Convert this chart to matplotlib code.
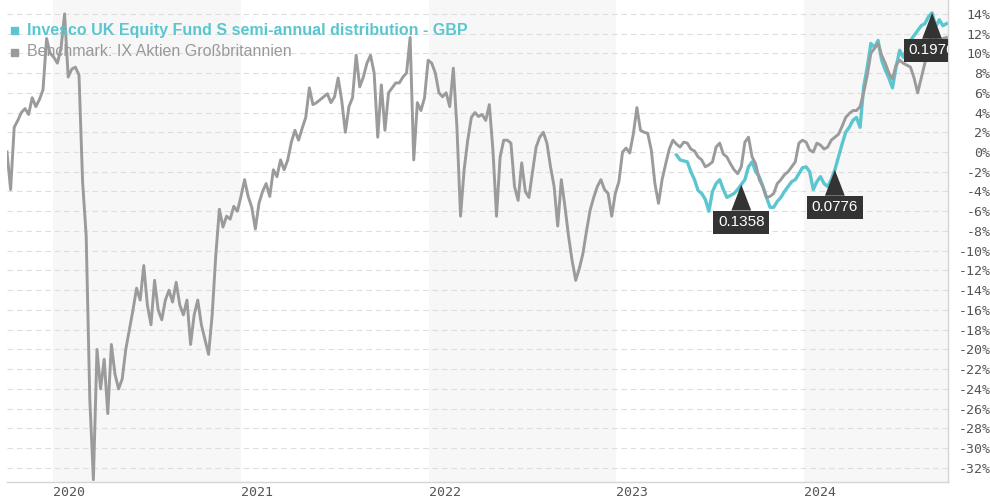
import pandas as pd
import matplotlib
matplotlib.use('Agg')
import matplotlib.pyplot as plt
from matplotlib.patches import Rectangle

# weekly closes, performance in %
weeks = pd.date_range('2019-10-04', periods=262, freq='7D')

benchmark = [
    0.0, -3.8, 2.5, 3.2, 4.0, 4.4, 3.8, 5.5, 4.6, 5.3,
    6.3, 11.5, 10.0, 9.6, 9.0, 10.5, 14.0, 7.6, 8.4, 8.6,
    7.8, -3.0, -8.5, -25.0, -33.2, -20.0, -24.0, -21.0, -26.5, -19.5,
    -22.5, -24.0, -23.0, -20.0, -18.0, -16.0, -13.8, -15.0, -11.5, -15.5,
    -17.5, -13.0, -16.0, -17.0, -15.0, -14.0, -15.2, -13.2, -15.5, -16.5,
    -15.0, -19.5, -16.5, -15.0, -17.5, -19.0, -20.5, -16.5, -10.5, -5.8,
    -7.6, -6.5, -6.8, -5.5, -6.0, -4.5, -2.8, -4.5, -5.6, -7.8,
    -5.2, -4.0, -3.2, -4.5, -1.8, -2.5, -0.8, -1.8, -0.8, 1.0,
    2.2, 1.2, 2.4, 3.5, 6.5, 4.8, 5.0, 5.3, 5.6, 5.9,
    5.0, 5.6, 7.5, 5.2, 2.0, 4.6, 5.5, 9.8, 6.6, 7.6,
    9.0, 9.8, 8.0, 1.5, 6.8, 2.2, 6.0, 6.5, 7.0, 7.0,
    7.6, 8.0, 11.6, -0.8, 5.0, 4.2, 5.5, 9.3, 9.0, 8.0,
    6.0, 5.6, 6.0, 4.6, 8.5, 2.5, -6.5, -1.8, 1.2, 3.5,
    4.0, 3.6, 3.8, 3.2, 4.8, 0.2, -6.5, -0.5, 1.2, 1.2,
    0.9, -3.5, -4.9, -1.1, -4.0, -4.6, -2.0, 0.5, 1.5, 2.0,
    0.9, -1.5, -3.5, -7.5, -2.8, -5.5, -8.5, -11.0, -13.0, -11.8,
    -10.3, -8.0, -5.9, -4.6, -3.5, -2.8, -3.8, -4.2, -6.5, -4.2,
    -3.0, 0.0, 0.4, -0.1, 1.8, 4.5, 2.2, 2.0, 1.9, 0.2,
    -3.2, -5.2, -2.8, -1.2, 0.3, 1.2, 0.8, 0.5, 1.0, 0.9,
    0.3, 0.1, -0.5, -0.8, -1.5, -1.3, -1.0, 0.5, 0.9, -0.2,
    -0.5, -1.2, -1.8, -2.2, -1.5, 1.0, 1.5, -0.5, -1.2, -2.8,
    -3.5, -4.6, -4.5, -4.2, -3.2, -2.8, -2.3, -2.0, -1.5, -1.0,
    0.9, 1.2, 1.0, 0.2, 0.0, 0.9, 0.7, 0.3, 0.5, 1.2,
    1.5, 1.8, 2.6, 3.5, 3.9, 4.2, 4.2, 4.6, 6.0, 7.8,
    10.0, 10.5, 11.0, 9.8, 9.0, 8.0, 7.4, 8.8, 9.3, 9.0,
    8.8, 8.6, 7.5, 6.0, 7.5, 9.0, 10.8, 12.0, 11.5, 11.0,
    11.5, 11.6,
]

fund_start = 186  # fund series begins at this week
fund = [
    -0.3, -0.8, -0.9, -1.0, -2.0, -2.8, -3.9, -4.2, -4.8, -6.0,
    -4.0, -3.2, -2.8, -3.8, -4.6, -4.4, -4.2, -3.8, -3.3, -2.8,
    -1.5, -1.0, -2.0, -2.5, -3.5, -4.6, -5.6, -5.6, -5.0, -4.6,
    -4.0, -3.5, -3.0, -2.8, -2.2, -1.6, -1.5, -2.0, -3.8, -3.0,
    -2.5, -3.2, -3.5, -2.8, -1.8, -0.5, 0.8, 2.0, 2.5, 3.2,
    3.5, 2.5, 6.6, 8.6, 11.0, 10.6, 11.3, 9.3, 8.3, 7.5,
    6.5, 8.6, 10.3, 9.6, 10.5, 11.3, 11.8, 12.3, 12.8, 13.0,
    13.7, 14.1, 12.7, 13.4, 12.8, 13.0,
]

payout_weeks = [204, 230, 257]
payout_labels = ['0.1358', '0.0776', '0.1976']

years = ['2020', '2021', '2022', '2023', '2024']
shaded_years = ['2020', '2022', '2024']
yticks = list(range(-32, 15, 2))

fund_name = 'Invesco UK Equity Fund S semi-annual distribution - GBP'
bench_name = 'Benchmark: IX Aktien Großbritannien'

CYAN = '#5bc6cf'
GREY = '#9b9b9b'
LABEL = '#555555'

plt.rcParams['font.family'] = ['DejaVu Sans']

fig = plt.figure(figsize=(9.9, 5.0), dpi=100)
ax = fig.add_axes([7 / 990, 18 / 500, 941 / 990, 482 / 500])
ax.set_xlim(pd.Timestamp('2019-10-04'), pd.Timestamp('2024-10-07'))
ax.set_ylim(-33.43, 15.4)

for y in shaded_years:
    ax.axvspan(pd.Timestamp(y + '-01-01'), pd.Timestamp(str(int(y) + 1) + '-01-01'),
               color='#f7f7f7', lw=0, zorder=0)

ax.set_yticks(yticks)
ax.yaxis.grid(True, color='#dedede', linestyle=(0, (5, 3.5)), linewidth=0.8, zorder=1)
ax.set_axisbelow(True)

ax.plot(weeks[fund_start:], fund, color=CYAN, lw=2.4, zorder=3, solid_joinstyle='round')
ax.plot(weeks, benchmark, color=GREY, lw=2.1, zorder=4, solid_joinstyle='round')

for idx, lab in zip(payout_weeks, payout_labels):
    val = fund[idx - fund_start]
    ax.annotate(lab, xy=(weeks[idx], val), xytext=(0, -27), textcoords='offset points',
                ha='center', va='center', color='white', fontsize=11,
                family='Liberation Sans',
                bbox=dict(boxstyle='square,pad=0.3', fc='#333333', ec='none'),
                arrowprops=dict(arrowstyle='wedge,tail_width=1.3,shrink_factor=0.5',
                                fc='#333333', ec='none', shrinkA=0, shrinkB=0),
                clip_on=True, zorder=6)

# axes cosmetics
for s in ['left', 'top']:
    ax.spines[s].set_visible(False)
for s in ['right', 'bottom']:
    ax.spines[s].set_color('#d5d5d5')
    ax.spines[s].set_linewidth(1.0)

ax.yaxis.tick_right()
ax.set_yticklabels([f'{v}%' for v in yticks])
ax.tick_params(axis='y', length=0, pad=30.5, labelsize=9.5, labelcolor=LABEL)
plt.setp(ax.get_yticklabels(), ha='right', family='DejaVu Sans Mono')

ax.set_xticks([pd.Timestamp(y + '-01-01') for y in years])
ax.set_xticklabels(years)
ax.tick_params(axis='x', length=0, pad=3, labelsize=9.5, labelcolor=LABEL)
plt.setp(ax.get_xticklabels(), ha='left', family='DejaVu Sans Mono')

# legend (top left)
fig.add_artist(Rectangle((11 / 990, 1 - 34 / 500), 7 / 990, 7 / 500,
                         transform=fig.transFigure, color=CYAN, zorder=7))
fig.add_artist(Rectangle((11 / 990, 1 - 56 / 500), 7 / 990, 7 / 500,
                         transform=fig.transFigure, color=GREY, zorder=7))
fig.text(27 / 990, 1 - 30 / 500, fund_name, color=CYAN, fontsize=11.5,
         fontweight='bold', family='Liberation Sans', va='center', zorder=7)
fig.text(27 / 990, 1 - 52 / 500, bench_name, color='#999999', fontsize=11.5,
         family='Liberation Sans', va='center', zorder=7)

fig.savefig('out.png', dpi=100)
